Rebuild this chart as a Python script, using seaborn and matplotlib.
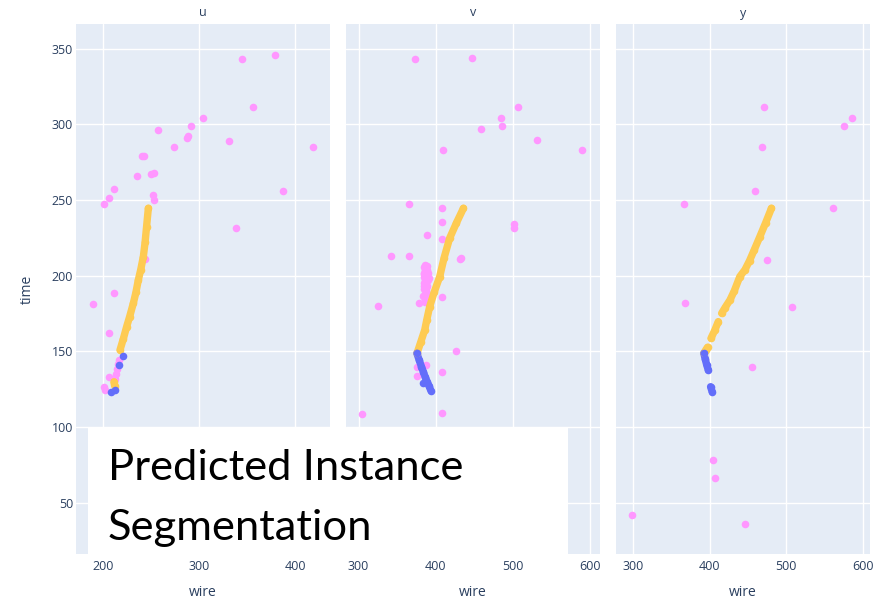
import matplotlib
matplotlib.use("Agg")
import matplotlib.pyplot as plt
import seaborn as sns
import pandas as pd
from matplotlib.patches import Rectangle

# ---------------- data ----------------
planes = ["u", "v", "y"]
x_ranges = {"u": (172.3, 436.0), "v": (283.7, 613.1), "y": (277.4, 609.4)}
y_range = (16.2, 366.3)
x_ticks = {"u": [200, 300, 400], "v": [300, 400, 500, 600], "y": [300, 400, 500, 600]}
y_ticks = [50, 100, 150, 200, 250, 300, 350]

# noise hits (pink)
u_noise_wire = [201.4, 207.0, 212.0, 235.6, 241.0, 243.0, 250.2, 253.3, 252.0, 253.3,
                257.4, 274.0, 287.5, 288.5, 291.6, 303.7, 330.8, 338.4, 344.6, 355.7,
                378.5, 386.8, 418.6, 243.8, 212.1, 189.6, 206.9, 206.9, 201.0, 202.0,
                212.8, 213.6, 214.5, 215.5, 216.6]
u_noise_time = [247.4, 251.6, 257.3, 265.9, 279.1, 279.3, 267.0, 268.1, 253.6, 250.0,
                296.1, 285.0, 291.0, 292.0, 299.1, 304.0, 289.0, 231.6, 343.4, 311.3,
                345.8, 256.2, 285.0, 211.0, 188.6, 181.4, 162.4, 133.4, 126.5, 124.5,
                131.5, 135.0, 138.5, 141.5, 144.5]

v_noise_wire = [373.8, 446.9, 506.9, 484.8, 486.5, 458.5, 531.5, 590.2, 409.3, 365.7,
                408.8, 408.0, 501.2, 501.2, 388.4, 408.1, 342.4, 365.2, 431.7, 432.5,
                325.1, 378.4, 408.7, 426.6, 375.6, 376.4, 408.0, 304.4, 408.8, 387.5,
                386.0, 387.0, 385.5, 387.5, 386.0, 388.0, 385.0, 387.0, 386.5, 389.0,
                388.0, 390.0, 384.5, 389.0, 391.5, 383.5,
                385.0, 386.5, 388.5, 385.5, 387.0, 389.5, 386.0, 388.0, 385.0, 387.5,
                389.0, 386.0, 384.5, 387.0, 388.5, 386.5]
v_noise_time = [343.4, 344.1, 311.7, 304.0, 298.9, 296.8, 289.5, 283.3, 283.1, 247.6,
                245.0, 235.5, 234.2, 231.6, 226.8, 224.5, 213.0, 213.3, 210.9, 211.5,
                180.1, 181.8, 185.8, 150.6, 140.0, 133.6, 136.2, 108.7, 109.2, 141.0,
                207.0, 205.0, 202.0, 200.0, 197.5, 195.0, 193.0, 190.5, 188.0, 186.0,
                183.5, 197.0, 199.0, 204.0, 198.3, 186.5,
                206.0, 203.5, 206.5, 201.0, 199.0, 201.5, 196.0, 192.0, 191.0, 189.0,
                193.5, 184.5, 195.0, 186.5, 188.0, 182.5]

y_noise_wire = [471.2, 586.3, 575.8, 467.8, 459.5, 365.8, 560.6, 475.2, 367.2, 507.1,
                455.2, 403.8, 406.8, 298.7, 445.6]
y_noise_time = [311.3, 304.0, 298.9, 285.0, 256.2, 247.6, 245.0, 210.4, 181.8, 179.2,
                139.8, 78.1, 66.4, 41.8, 36.1]

# predicted instance 0 (yellow) tracks, with segment ids
u_inst0_wire = [247.4, 245.5, 244.0, 242.2, 239.5, 237.0, 234.5, 231.8, 228.0, 224.9,
                221.5, 218.0, 211.7, 212.3]
u_inst0_time = [244.6, 232.0, 222.0, 212.6, 204.0, 197.2, 189.0, 181.8, 173.0, 166.4,
                158.5, 151.0, 130.0, 127.5]
u_inst0_seg = [0] * 12 + [1, 1]

v_inst0_wire = [436.0, 427.0, 418.1, 411.0, 405.2, 398.0, 392.2, 388.5, 385.8, 380.5, 375.8]
v_inst0_time = [244.6, 235.0, 224.8, 212.0, 199.4, 189.0, 179.6, 171.0, 164.2, 156.0, 148.8]
v_inst0_seg = [0] * 11

y_inst0_wire = [480.6, 473.0, 465.4, 458.0, 452.0, 446.0, 439.2, 432.0, 426.4, 420.0, 415.5,
                411.1, 406.5, 401.6,
                397.0, 394.5, 392.2]
y_inst0_time = [244.6, 235.0, 225.8, 217.0, 210.0, 204.0, 199.4, 190.0, 184.0, 179.0, 175.2,
                169.7, 164.0, 158.7,
                152.8, 150.8, 148.8]
y_inst0_seg = [0] * 11 + [1] * 3 + [2] * 3

# predicted instance 1 (blue) tracks
u_inst1_wire = [208.5, 212.3, 217.0, 221.2]
u_inst1_time = [122.9, 124.4, 141.0, 147.2]
u_inst1_seg = [0, 1, 2, 3]

v_inst1_wire = [375.6, 378.5, 381.5, 384.0, 386.5, 389.0, 391.5, 393.8, 384.2]
v_inst1_time = [148.8, 144.5, 140.0, 136.5, 133.0, 130.0, 127.0, 124.1, 129.4]
v_inst1_seg = [0] * 8 + [1]

y_inst1_wire = [392.2, 394.0, 396.0, 398.0, 401.0, 403.0]
y_inst1_time = [148.8, 145.0, 141.0, 137.8, 126.7, 123.5]
y_inst1_seg = [0, 0, 0, 0, 1, 1]

noise = {"u": (u_noise_wire, u_noise_time), "v": (v_noise_wire, v_noise_time),
         "y": (y_noise_wire, y_noise_time)}
inst0 = {"u": (u_inst0_wire, u_inst0_time, u_inst0_seg),
         "v": (v_inst0_wire, v_inst0_time, v_inst0_seg),
         "y": (y_inst0_wire, y_inst0_time, y_inst0_seg)}
inst1 = {"u": (u_inst1_wire, u_inst1_time, u_inst1_seg),
         "v": (v_inst1_wire, v_inst1_time, v_inst1_seg),
         "y": (y_inst1_wire, y_inst1_time, y_inst1_seg)}

rows = []
for p in planes:
    for w, t in zip(*noise[p]):
        rows.append(dict(plane=p, wire=w, time=t, label="noise", seg=0))
    for w, t, s in zip(*inst0[p]):
        rows.append(dict(plane=p, wire=w, time=t, label="inst0", seg=s))
    for w, t, s in zip(*inst1[p]):
        rows.append(dict(plane=p, wire=w, time=t, label="inst1", seg=s))
df = pd.DataFrame(rows)

# ---------------- styling ----------------
sns.set_theme(style="white")
plt.rcParams["font.family"] = ["Open Sans", "DejaVu Sans"]

BG = "#E5ECF6"
FONT_C = "#2a3f5f"
colors = {"noise": "#FF97FF", "inst0": "#FECB52", "inst1": "#636EFA"}

W, H = 885, 600
fig = plt.figure(figsize=(W / 100, H / 100), dpi=100)
fig.patch.set_facecolor("white")

lefts = {"u": 76, "v": 346, "y": 616}
pw, top, bottom = 254, 24, 554

for p in planes:
    ax = fig.add_axes([lefts[p] / W, (H - bottom) / H, pw / W, (bottom - top) / H])
    ax.set_facecolor(BG)
    for s in ax.spines.values():
        s.set_visible(False)
    ax.set_xlim(*x_ranges[p])
    ax.set_ylim(*y_range)
    ax.set_xticks(x_ticks[p])
    ax.set_yticks(y_ticks)
    ax.grid(True, color="white", linewidth=1.0)
    ax.set_axisbelow(True)
    ax.tick_params(length=0, labelsize=9, colors=FONT_C)
    ax.tick_params(axis="x", pad=4)
    ax.tick_params(axis="y", pad=2)
    if p != "u":
        ax.tick_params(labelleft=False)

    sub = df[df.plane == p]
    sns.scatterplot(data=sub[sub.label == "noise"], x="wire", y="time",
                    color=colors["noise"], s=30, linewidth=0, ax=ax, legend=False, zorder=2)
    for lab in ["inst0", "inst1"]:
        d = sub[sub.label == lab]
        if not (p == "u" and lab == "inst1"):
            sns.lineplot(data=d, x="wire", y="time", units="seg", estimator=None, sort=False,
                         color=colors[lab], linewidth=5.3, ax=ax, legend=False,
                         solid_capstyle="round", zorder=3)
        sns.scatterplot(data=d, x="wire", y="time", color=colors[lab], s=30,
                        linewidth=0, ax=ax, legend=False, zorder=4)

    ax.set_xlabel("wire", fontsize=10, color=FONT_C)
    ax.xaxis.set_label_coords(0.5, -(593 - bottom) / (bottom - top))
    ax.xaxis.label.set_va("center")
    ax.set_ylabel("")
    ax.text(0.5, 1 + 11 / (bottom - top), p, transform=ax.transAxes, ha="center",
            va="center", fontsize=9, color=FONT_C)

fig.text(27 / W, 1 - 289 / H, "time", rotation=90, ha="center", va="center",
         fontsize=10, color=FONT_C)

# white caption box
fig.add_artist(Rectangle((88 / W, (H - 556) / H), 480 / W, (556 - 428) / H,
                         transform=fig.transFigure, facecolor="white", edgecolor="none",
                         zorder=5))
cap_font = ["Lato", "DejaVu Sans"]
fig.text(108 / W, 1 - 480 / H, "Predicted Instance", fontsize=31.3, family=cap_font,
         ha="left", va="baseline", color="black", zorder=6)
fig.text(108 / W, 1 - 540 / H, "Segmentation", fontsize=31.3, family=cap_font,
         ha="left", va="baseline", color="black", zorder=6)

fig.savefig("out.png", dpi=100, facecolor="white")
